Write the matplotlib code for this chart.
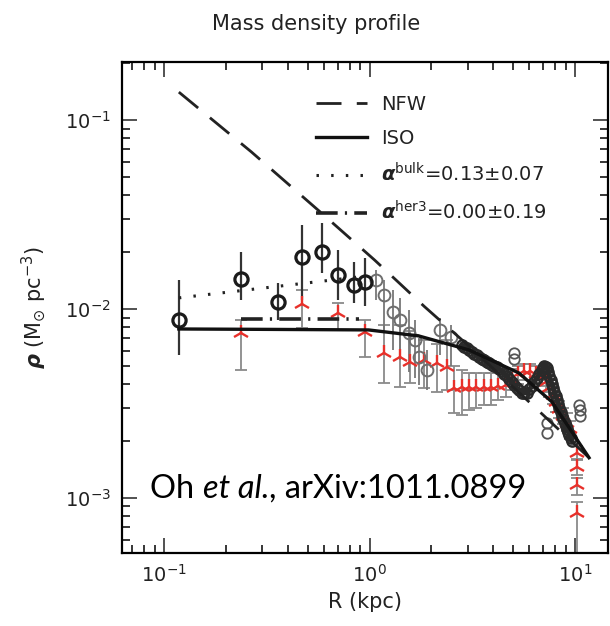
import matplotlib
matplotlib.use("Agg")
import matplotlib.pyplot as plt
import numpy as np

nfw_r = [0.118, 0.266, 0.583, 1.058, 1.855, 3.04, 6.67, 11.7]
nfw_rho = [0.1406, 0.0678, 0.0322, 0.01815, 0.01026, 0.00637, 0.00288, 0.00163]

iso_r = [0.118, 0.333, 0.989, 1.73, 3.04, 5.33, 7.72, 11.7]
iso_rho = [0.00783, 0.00779, 0.00774, 0.00720, 0.00607, 0.00458, 0.00322, 0.00163]

bulk_r = [0.118, 0.333, 0.88]
bulk_rho = [0.01144, 0.01305, 0.01476]

her3_r = [0.238, 0.89]
her3_rho = [0.0088, 0.0088]

# inner rotation-curve points (bulk velocities)
dark_r = [0.118, 0.238, 0.360, 0.471, 0.590, 0.706, 0.836, 0.945]
dark_rho = [0.00875, 0.0144, 0.0109, 0.0188, 0.0200, 0.0151, 0.0134, 0.0139]
dark_hi = [0.0142, 0.0200, 0.0137, 0.0278, 0.0285, 0.0205, 0.0177, 0.0186]
dark_lo = [0.00571, 0.0112, 0.00875, 0.0112, 0.0155, 0.0112, 0.0108, 0.0103]

# outer points with error bars
grey_r = [1.07, 1.17, 1.295, 1.40, 1.55, 1.66, 1.75, 1.90, 2.195, 2.50]
grey_rho = [0.01424, 0.01186, 0.00964, 0.00875, 0.00746, 0.00685, 0.00557, 0.00475, 0.00774, 0.00711]
grey_hi = [0.0161, 0.01424, 0.0126, 0.0114, 0.00988, 0.00875, 0.00702, 0.00607, 0.00896, 0.00823]
grey_lo = [0.0112, 0.00774, 0.00607, 0.00537, 0.00464, 0.00430, 0.00396, 0.00373, 0.00570, 0.00500]

# dense outer profile
dense_r = [2.81, 2.89, 2.97, 3.06, 3.15, 3.24, 3.33, 3.42, 3.52, 3.62, 3.72, 3.83,
           3.94, 4.05, 4.16, 4.28, 4.41, 4.53, 4.66, 4.79, 4.93, 5.07, 5.21, 5.36,
           5.51, 5.67, 5.83, 6.00, 6.17, 6.34, 6.52, 6.71, 6.90, 7.00, 7.10, 7.20,
           7.30, 7.40, 7.51, 7.61, 7.72, 7.83, 7.94, 8.05, 8.17, 8.28, 8.40, 8.52,
           8.64, 8.76, 8.89, 9.01, 9.14, 9.27, 9.40, 9.53, 9.67]
dense_rho = [0.00645, 0.00632, 0.00620, 0.00606, 0.00593, 0.00580, 0.00568, 0.00556,
             0.00545, 0.00535, 0.00525, 0.00515, 0.00505, 0.00497, 0.00490, 0.00480,
             0.00470, 0.00455, 0.00440, 0.00425, 0.00410, 0.00395, 0.00380, 0.00370,
             0.00360, 0.00358, 0.00360, 0.00375, 0.00390, 0.00410, 0.00430, 0.00452,
             0.00475, 0.00488, 0.00500, 0.00495, 0.00485, 0.00462, 0.00440, 0.00420,
             0.00400, 0.00382, 0.00365, 0.00347, 0.00330, 0.00315, 0.00300, 0.00286,
             0.00272, 0.00261, 0.00250, 0.00241, 0.00232, 0.00223, 0.00215, 0.00207,
             0.00200]

odd_r = [5.04, 5.04, 7.30, 7.30, 10.5, 10.6, 10.6]
odd_rho = [0.00585, 0.00545, 0.00249, 0.00221, 0.00311, 0.00290, 0.00272]

# hermite points (red)
red_r = [0.2375, 0.471, 0.706, 0.945, 1.17, 1.40, 1.567, 1.834, 2.12, 2.375, 2.569,
         2.81, 3.05, 3.31, 3.59, 3.90, 4.23, 4.59, 4.93, 5.29, 5.64, 6.05, 6.45,
         6.90, 7.20, 7.50, 7.80, 8.10, 8.40, 8.75, 9.10, 9.45,
         10.23, 10.23, 10.23, 10.23]
red_rho = [0.00746, 0.0106, 0.00952, 0.00756, 0.00585, 0.00557, 0.00524, 0.00537,
           0.00518, 0.00493, 0.00382, 0.00387, 0.00385, 0.00387, 0.00387, 0.00387,
           0.00390, 0.00395, 0.00421, 0.00455, 0.00470, 0.00470, 0.00455,
           0.00437, 0.00410, 0.00380, 0.00350, 0.00320, 0.00295, 0.00270, 0.00250,
           0.00230, 0.00173, 0.00146, 0.00117, 0.000834]
red_hi = [0.00875, 0.0126, 0.0108, 0.00875, 0.00823, 0.00823, 0.00765, 0.00685,
          0.00650, 0.00685, 0.00500, 0.00475, 0.00460, 0.00460, 0.00460, 0.00460,
          0.00460, 0.00460, 0.00480, 0.00500, 0.00510, 0.00510, 0.00500,
          0.00480, 0.00450, 0.00420, 0.00390, 0.00355, 0.00325, 0.00300, 0.00280,
          0.00255, 0.00188, 0.00158, 0.00127, 0.00095]
red_lo = [0.00475, 0.0079, 0.00774, 0.00557, 0.00406, 0.00387, 0.00406, 0.00382,
          0.00364, 0.00373, 0.00282, 0.00275, 0.00290, 0.00300, 0.00310, 0.00310,
          0.00330, 0.00340, 0.00370, 0.00400, 0.00420, 0.00420, 0.00405,
          0.00390, 0.00365, 0.00340, 0.00315, 0.00285, 0.00265, 0.00245, 0.00225,
          0.00205, 0.00160, 0.00132, 0.00104, 0.00045]

plt.rcParams['font.family'] = ['DejaVu Sans']
plt.rcParams['mathtext.fontset'] = 'dejavusans'

fig = plt.figure(figsize=(6.10, 6.26), dpi=100)
ax = fig.add_axes([0.2, 0.1166, 0.797, 0.7844])

def yerr(rho, lo, hi):
    rho = np.asarray(rho)
    return [rho - np.asarray(lo), np.asarray(hi) - rho]

# error bars first so the markers sit on top
ax.errorbar(red_r, red_rho, yerr=yerr(red_rho, red_lo, red_hi), fmt='none',
            ecolor='#8a8a8a', elinewidth=1.3, capsize=4, capthick=1.3, zorder=2)
ax.errorbar(grey_r, grey_rho, yerr=yerr(grey_rho, grey_lo, grey_hi), fmt='none',
            ecolor='#777777', elinewidth=1.3, capsize=0, zorder=2)
ax.errorbar(dark_r, dark_rho, yerr=yerr(dark_rho, dark_lo, dark_hi), fmt='none',
            ecolor='#333333', elinewidth=1.6, capsize=0, zorder=3)

ax.plot(red_r, red_rho, ls='none', marker='2', ms=12, mew=1.7,
        color='#e8302a', zorder=4)
ax.plot(grey_r, grey_rho, ls='none', marker='o', ms=8.5, mfc='none',
        mec='#6e6e6e', mew=1.4, zorder=4)
ax.plot(dense_r, dense_rho, ls='-', lw=3.5, color='#2a2a2a', marker='o', ms=7.5,
        mfc='none', mec='#2a2a2a', mew=1.6, zorder=4)
ax.plot(odd_r, odd_rho, ls='none', marker='o', ms=7.5, mfc='none',
        mec='#555555', mew=1.3, zorder=4)
ax.plot(dark_r, dark_rho, ls='none', marker='o', ms=9.5, mfc='none',
        mec='#1a1a1a', mew=2.3, zorder=5)

# fitted profiles
ax.plot(nfw_r, nfw_rho, color='#222222', lw=2.0, ls=(0, (9, 5.5)),
        label='NFW', zorder=6)
ax.plot(iso_r, iso_rho, color='#111111', lw=2.4, ls='-', label='ISO', zorder=6)
ax.plot(bulk_r, bulk_rho, color='#222222', lw=2.2, ls=(0, (0.8, 4)),
        label=r'$\boldsymbol{\alpha}^{\mathrm{bulk}}$=0.13$\pm$0.07', zorder=6)
ax.plot(her3_r, her3_rho, color='#222222', lw=2.6, ls=(0, (6, 2, 0.6, 2)),
        label=r'$\boldsymbol{\alpha}^{\mathrm{her3}}$=0.00$\pm$0.19', zorder=6)

ax.set_xscale('log')
ax.set_yscale('log')
ax.set_xlim(0.0624, 14.5)
ax.set_ylim(5.1e-4, 0.203)

for side in ax.spines.values():
    side.set_linewidth(1.6)
ax.tick_params(which='both', direction='in', top=True, right=True, width=1.1)
ax.tick_params(which='major', length=11, labelsize=14, pad=8, colors='#222222')
ax.tick_params(which='minor', length=6)

ax.set_xlabel('R (kpc)', fontsize=15, labelpad=4, color='#222222')
ax.set_ylabel(r'$\boldsymbol{\rho}$ (M$_{\odot}$ pc$^{-3}$)', fontsize=15,
              labelpad=12, color='#222222')

fig.text(0.518, 0.962, 'Mass density profile', ha='center', va='center',
         fontsize=15, color='#222222')

leg = ax.legend(loc='upper left', bbox_to_anchor=(0.38, 0.952), frameon=False,
                fontsize=14, handlelength=2.6, handletextpad=0.7,
                labelspacing=0.75, borderpad=0)
for txt in leg.get_texts():
    txt.set_color('#222222')

# citation, with the "et al." part in italics
t1 = ax.text(0.058, 0.1, 'Oh ', transform=ax.transAxes, fontsize=23.5,
             family='Lato', color='black', ha='left', va='bottom')
t2 = ax.annotate('et al.', xy=(1, 0), xycoords=t1, fontsize=23.5, family='Lato',
                 style='italic', color='black', ha='left', va='bottom')
ax.annotate(', arXiv:1011.0899', xy=(1, 0), xycoords=t2, fontsize=23.5,
            family='Lato', color='black', ha='left', va='bottom')

fig.savefig('out.png', dpi=100)
